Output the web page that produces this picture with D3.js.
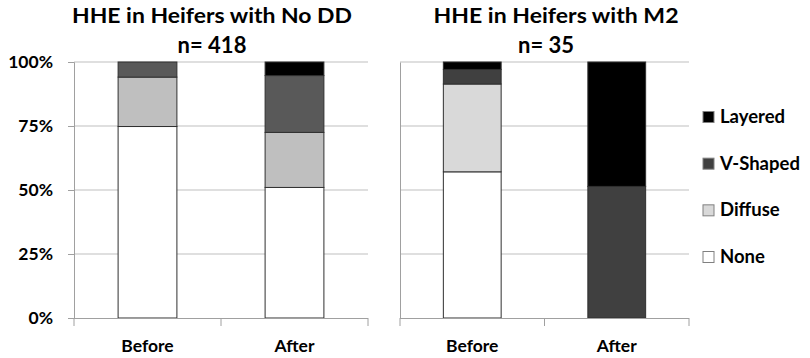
<!DOCTYPE html>
<html>
<head>
<meta charset="utf-8" />
<script src="https://cdnjs.cloudflare.com/ajax/libs/d3/7.8.5/d3.min.js"></script>
<style>
  body { margin: 0; background: #fff; }
  text { font-family: Lato, "Open Sans", sans-serif; font-weight: bold; fill: #000; }
</style>
</head>
<body>
<svg id="chart" width="810" height="358"></svg>
<script>
const categories = ['Before', 'After']
const seriesNames = ['None', 'Diffuse', 'V-Shaped', 'Layered']
const yTicks = [0, 25, 50, 75, 100]

// left panel: HHE in heifers with no DD
const leftNone = [74.8, 51.0]
const leftDiffuse = [19.3, 21.5]
const leftVShaped = [5.9, 22.2]
const leftLayered = [0, 5.3]

// right panel: HHE in heifers with M2
const rightNone = [57.1, 0]
const rightDiffuse = [34.3, 0]
const rightVShaped = [5.7, 51.4]
const rightLayered = [2.9, 48.6]

const svg = d3.select('#chart')
const yScale = d3.scaleLinear().domain([0, 100]).range([318, 62])

function buildRows(none, diffuse, vshaped, layered) {
  return categories.map(function(c, i) {
    return { cat: c, 'None': none[i], 'Diffuse': diffuse[i], 'V-Shaped': vshaped[i], 'Layered': layered[i] }
  })
}

function drawPanel(opts) {
  const g = svg.append('g')
  const xScale = d3.scaleBand().domain(categories).range([opts.x0, opts.x1]).paddingInner(0.6).paddingOuter(0.3)
  const outer = d3.scaleBand().domain(categories).range([opts.x0, opts.x1])

  // gridlines
  g.selectAll('line.grid')
    .data(yTicks.filter(function(t) { return t > 0 }))
    .enter().append('line')
    .attr('x1', opts.x0).attr('x2', opts.x1)
    .attr('y1', function(d) { return yScale(d) }).attr('y2', function(d) { return yScale(d) })
    .style('stroke', '#c0c0c0').style('stroke-width', 1.2)

  let yAxis = d3.axisLeft(yScale).tickValues(yTicks).tickSize(opts.showLabels ? 6 : 0)
    .tickFormat(function(d) { return opts.showLabels ? d + '%' : '' })
  let ya = g.append('g').attr('transform', 'translate(' + opts.x0 + ',0)').call(yAxis)
  ya.select('.domain').style('stroke', '#a0a0a0')
  ya.selectAll('.tick line').style('stroke', '#a0a0a0')
  ya.selectAll('.tick text').attr('x', -21).style('font-size', '17.5px').style('font-family', 'Lato, sans-serif').style('font-weight', 'bold')

  const stack = d3.stack().keys(seriesNames)(buildRows(opts.none, opts.diffuse, opts.vshaped, opts.layered))
  g.selectAll('g.series')
    .data(stack)
    .enter().append('g')
    .style('fill', function(d) { return opts.colors[d.key] })
    .selectAll('rect')
    .data(function(d) { return d.filter(function(p) { return p[1] - p[0] > 0 }) })
    .enter().append('rect')
    .attr('x', function(d) { return xScale(d.data.cat) })
    .attr('width', xScale.bandwidth())
    .attr('y', function(d) { return yScale(d[1]) })
    .attr('height', function(d) { return yScale(d[0]) - yScale(d[1]) })
    .style('stroke', '#303030').style('stroke-width', 1)

  // bottom axis with ticks at band edges
  let edges = categories.map(function(c) { return outer(c) }).concat([opts.x1])
  g.append('line').attr('x1', opts.x0).attr('x2', opts.x1).attr('y1', 318.5).attr('y2', 318.5).style('stroke', '#a0a0a0')
  g.selectAll('line.xt').data(edges).enter().append('line')
    .attr('x1', function(d) { return d }).attr('x2', function(d) { return d })
    .attr('y1', 318).attr('y2', 326).style('stroke', '#a0a0a0')
  g.selectAll('text.xl').data(categories).enter().append('text')
    .attr('x', function(d) { return xScale(d) + xScale.bandwidth() / 2 })
    .attr('y', 352).attr('text-anchor', 'middle').style('font-size', '17.5px')
    .text(function(d) { return d })

  g.append('text').attr('x', opts.titleX).attr('y', 23).attr('text-anchor', 'middle')
    .attr('textLength', opts.titleW).attr('lengthAdjust', 'spacingAndGlyphs')
    .style('font-size', '21px').text(opts.title)
  g.append('text').attr('x', opts.subX).attr('y', 53).attr('text-anchor', 'middle')
    .style('font-size', '22px').text(opts.subtitle)
}

drawPanel({
  x0: 74, x1: 368, showLabels: true, titleX: 212, subX: 212, titleW: 280,
  title: 'HHE in Heifers with No DD', subtitle: 'n= 418',
  none: leftNone, diffuse: leftDiffuse, vshaped: leftVShaped, layered: leftLayered,
  colors: { 'None': '#ffffff', 'Diffuse': '#bfbfbf', 'V-Shaped': '#595959', 'Layered': '#000000' }
})

const rightColors = { 'None': '#ffffff', 'Diffuse': '#d9d9d9', 'V-Shaped': '#404040', 'Layered': '#000000' }
drawPanel({
  x0: 400, x1: 689, showLabels: false, titleX: 556, subX: 546, titleW: 245,
  title: 'HHE in Heifers with M2', subtitle: 'n= 35',
  none: rightNone, diffuse: rightDiffuse, vshaped: rightVShaped, layered: rightLayered,
  colors: rightColors
})

// legend, top to bottom
const legendNames = seriesNames.slice().reverse()
const legendY = d3.scalePoint().domain(legendNames).range([117, 257])
const lg = svg.append('g')
lg.selectAll('rect').data(legendNames).enter().append('rect')
  .attr('x', 703).attr('y', function(d) { return legendY(d) - 5.5 })
  .attr('width', 11).attr('height', 11)
  .style('fill', function(d) { return rightColors[d] }).style('stroke', '#808080')
lg.selectAll('text').data(legendNames).enter().append('text')
  .attr('x', 720).attr('y', function(d) { return legendY(d) + 6 })
  .style('font-size', '18.5px')
  .text(function(d) { return d })
</script>
</body>
</html>
